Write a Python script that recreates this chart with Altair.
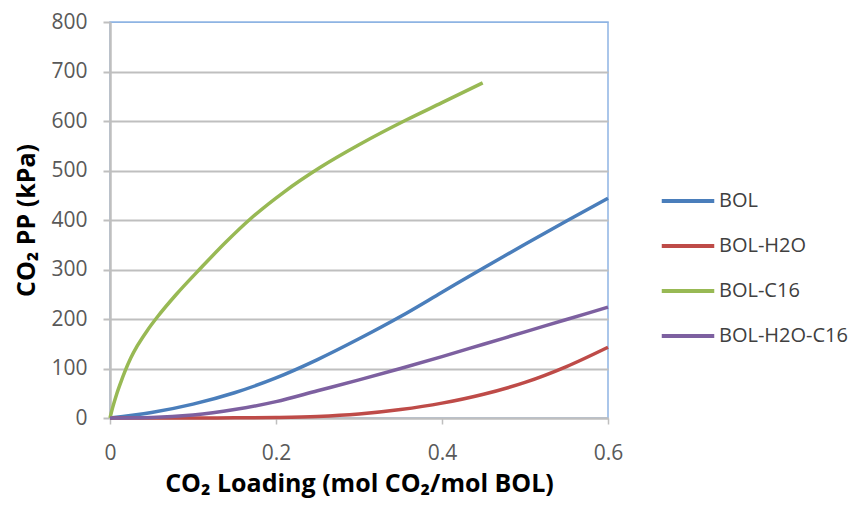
import altair as alt
import pandas as pd

series_names = ["BOL", "BOL-H2O", "BOL-C16", "BOL-H2O-C16"]
colors = ["#4A7EBB", "#BE4B48", "#98B954", "#7D60A0"]

bol_x = [0, 0.05, 0.1, 0.15, 0.2, 0.25, 0.3, 0.35, 0.4, 0.45, 0.5, 0.55, 0.6]
bol_y = [0, 11, 28, 51, 81, 118, 160, 205, 254, 303, 351, 398, 444]

h2o_x = [0, 0.1, 0.15, 0.2, 0.25, 0.3, 0.35, 0.4, 0.45, 0.5, 0.55, 0.6]
h2o_y = [0, 0, 0.3, 1, 3, 8, 17, 30, 48, 72, 104, 143]

c16_x = [0, 0.003, 0.008, 0.013, 0.018, 0.025, 0.033, 0.045, 0.057, 0.08, 0.11, 0.14,
         0.169, 0.21, 0.253, 0.30, 0.358, 0.40, 0.449]
c16_y = [0, 20, 48, 72, 94, 121, 146, 177, 204, 250, 304, 356,
         402, 457, 506, 552, 603, 637, 677]

h2oc16_x = [0, 0.05, 0.1, 0.15, 0.2, 0.25, 0.3, 0.35, 0.4, 0.45, 0.5, 0.55, 0.6]
h2oc16_y = [0, 1, 6, 17, 33, 55, 77, 100, 124, 149, 174, 199, 224]

rows = []
for name, xs, ys in [
    ("BOL", bol_x, bol_y),
    ("BOL-H2O", h2o_x, h2o_y),
    ("BOL-C16", c16_x, c16_y),
    ("BOL-H2O-C16", h2oc16_x, h2oc16_y),
]:
    for x, y in zip(xs, ys):
        rows.append({"series": name, "x": x, "y": y})
df = pd.DataFrame(rows)

FONT = "Open Sans"

chart = alt.Chart(df).mark_line(strokeWidth=3.5, interpolate="monotone").encode(
    x=alt.X("x:Q",
            scale=alt.Scale(domain=[0, 0.6], nice=False, zero=False),
            axis=alt.Axis(values=[0, 0.2, 0.4, 0.6], format="~g", grid=False,
                          labelFlush=False,
                          title="CO₂ Loading (mol CO₂/mol BOL)",
                          titleX=249, titleY=65, titleBaseline="middle",
                          titleFontSize=25, titleFont=FONT, titleFontWeight="bold",
                          titleColor="#000000",
                          labelFont=FONT, labelFontSize=21, labelColor="#595959",
                          labelPadding=18,
                          domainColor="#BFBFBF", domainWidth=2,
                          tickColor="#BFBFBF", tickSize=6, tickWidth=1.5)),
    y=alt.Y("y:Q",
            scale=alt.Scale(domain=[0, 800], nice=False),
            axis=alt.Axis(values=list(range(0, 801, 100)), grid=True,
                          gridColor=alt.condition("datum.value == 800", alt.value("#8EB4E3"), alt.value("#BFBFBF")),
                          gridWidth=alt.condition("datum.value == 800", alt.value(1), alt.value(2)),
                          title="CO₂ PP (kPa)",
                          titleX=-84, titleY=198, titleAngle=270,
                          titleAlign="center", titleBaseline="middle",
                          titleFontSize=25, titleFont=FONT, titleFontWeight="bold",
                          titleColor="#000000",
                          labelFont=FONT, labelFontSize=21, labelColor="#595959",
                          labelPadding=16,
                          domainColor="#BFBFBF", domainWidth=2.5,
                          tickColor="#BFBFBF", tickSize=7, tickWidth=2)),
    color=alt.Color("series:N",
                    scale=alt.Scale(domain=series_names, range=colors),
                    sort=series_names,
                    legend=alt.Legend(title=None, orient="none", legendX=555, legendY=156,
                                      symbolType="M-1.25,0H1.25", symbolSize=1764,
                                      symbolStrokeWidth=4, rowPadding=12,
                                      labelFont=FONT, labelFontSize=20, labelColor="#404040",
                                      labelOffset=8)),
).properties(
    width=498, height=396,
    autosize=alt.AutoSizeParams(type="none"),
    padding={"left": 102, "top": 14, "right": 247, "bottom": 81},
).configure_view(
    stroke="#8EB4E3", strokeWidth=1.5
)

chart.save("out.html", embed_options={"renderer": "svg", "actions": False})
